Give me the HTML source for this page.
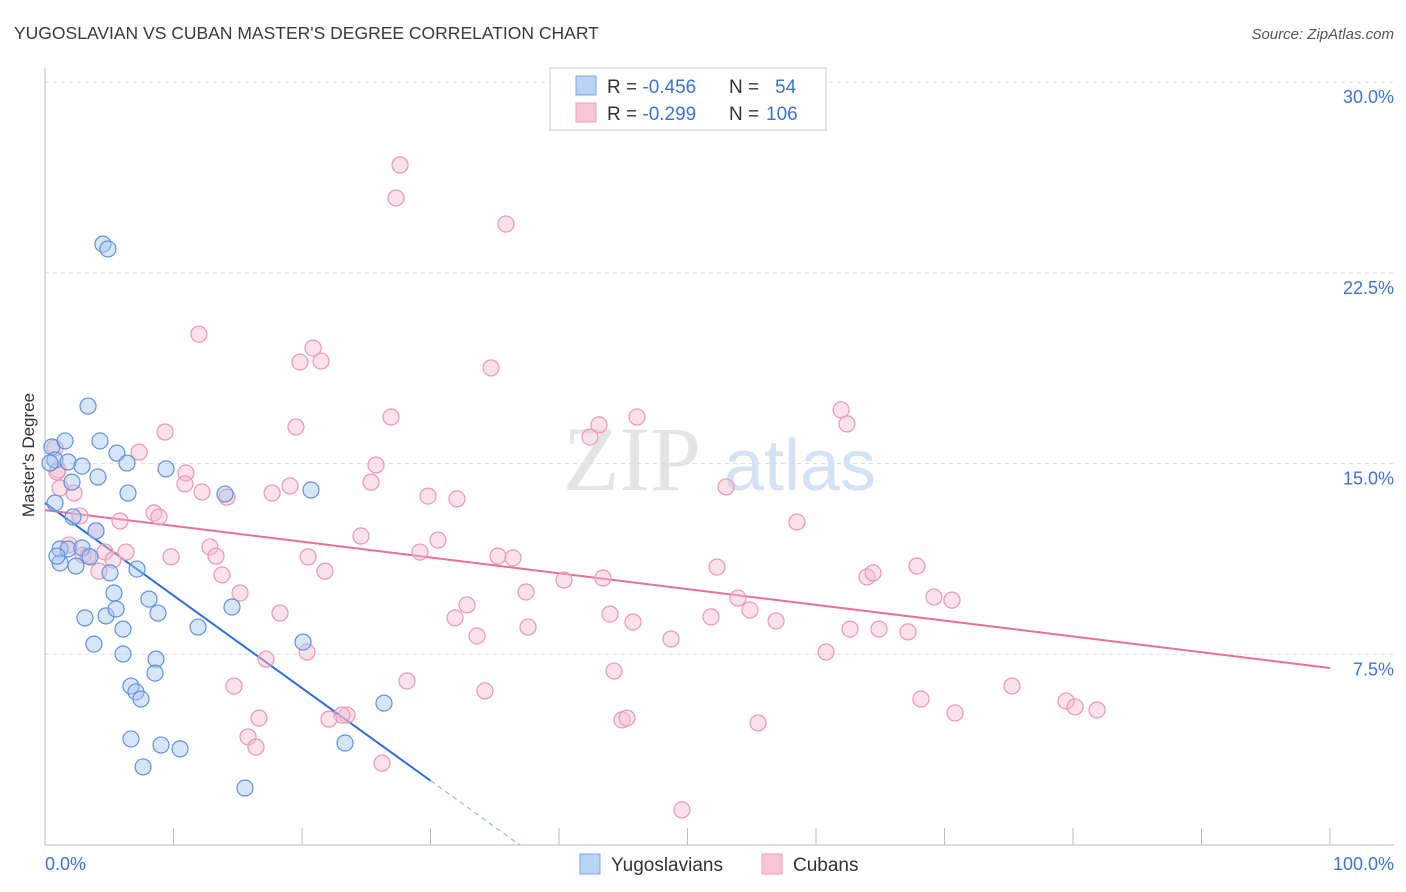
<!DOCTYPE html>
<html><head><meta charset="utf-8"><style>
body{margin:0;background:#fff;}
svg{display:block;font-family:"Liberation Sans",sans-serif;}
</style></head><body>
<svg id="chart" width="1406" height="892">
<text x="14" y="39" font-size="17.5" fill="#3a3a3a">YUGOSLAVIAN VS CUBAN MASTER'S DEGREE CORRELATION CHART</text>
<text x="1394" y="39" font-size="15" fill="#555" text-anchor="end" font-style="italic">Source: ZipAtlas.com</text>
<text transform="translate(34,455) rotate(-90)" font-size="17" fill="#333" text-anchor="middle">Master's Degree</text>
<g>
<text x="632" y="490" font-size="92" fill="#e4e4e4" text-anchor="middle" font-family="Liberation Serif,serif">ZIP</text>
<text x="800" y="490" font-size="72" fill="#d3e2f4" text-anchor="middle">atlas</text>
</g>
<g id="grid"></g><g id="axes"></g><g id="lines"></g><g id="pts"></g>
<g>
<rect x="550" y="68" width="276" height="62" fill="#fff" stroke="#ccc"/>
<rect x="576" y="76" width="20" height="19" fill="#b9d3f5" stroke="#7aa7e3"/>
<rect x="576" y="103" width="20" height="19" fill="#f8c6d6" stroke="#eca3bb"/>
<text x="607" y="93" font-size="19" fill="#333">R = <tspan fill="#3d74d2">-0.456</tspan><tspan x="729">N = </tspan><tspan x="775" fill="#3d74d2">54</tspan></text>
<text x="607" y="120" font-size="19" fill="#333">R = <tspan fill="#3d74d2">-0.299</tspan><tspan x="729">N = </tspan><tspan x="766" fill="#3d74d2">106</tspan></text>
</g>
<g>
<rect x="580" y="854" width="20" height="20" fill="#b9d3f5" stroke="#7aa7e3"/>
<text x="611" y="871" font-size="19" fill="#333">Yugoslavians</text>
<rect x="762" y="854" width="20" height="20" fill="#f8c6d6" stroke="#eca3bb"/>
<text x="793" y="871" font-size="19" fill="#333">Cubans</text>
</g>
</svg>
<script>
const yTicks=[7.5,15,22.5,30];
const yTickLabels=["7.5%","15.0%","22.5%","30.0%"];
const xTicks=[0,10,20,30,40,50,60,70,80,90,100];
const yugoX=[0.54,0.78,0.39,0.78,1.56,1.79,2.10,2.88,4.12,4.28,3.35,5.60,6.38,6.46,9.42,14.01,20.70,4.51,4.90,1.17,1.79,2.88,1.17,2.41,2.18,3.97,3.50,5.06,7.16,5.37,8.09,8.79,4.75,5.53,3.11,6.07,3.81,6.07,11.91,14.55,8.64,8.56,6.69,7.08,7.47,20.08,6.69,9.03,10.51,7.63,15.56,23.35,26.38,0.93];
const yugoY=[15.65,15.14,15.02,13.45,15.89,15.06,14.27,14.90,14.47,15.89,17.26,15.41,15.02,13.84,14.79,13.80,13.96,23.63,23.44,11.64,11.64,11.68,11.09,10.97,12.90,12.35,11.33,10.70,10.85,9.91,9.67,9.12,9.01,9.28,8.93,8.49,7.90,7.51,8.57,9.36,7.31,6.76,6.25,6.02,5.74,7.98,4.17,3.93,3.78,3.07,2.24,4.01,5.58,11.36];
const cubX=[27.63,27.32,35.88,11.98,20.86,19.84,21.48,34.71,26.93,43.11,46.07,42.41,61.95,62.41,9.34,7.32,0.78,1.01,1.17,2.26,10.97,10.89,12.22,14.16,17.67,19.07,19.53,25.76,25.37,29.81,32.06,53.00,58.52,5.84,8.48,8.87,2.72,3.97,1.87,4.67,5.29,4.20,9.81,12.84,13.31,13.77,15.18,18.29,21.79,24.59,29.18,30.58,35.25,36.42,37.43,40.39,43.42,32.84,31.91,33.62,37.59,43.97,45.76,48.72,51.83,52.30,53.93,54.86,56.89,60.78,62.65,63.97,64.44,64.90,67.16,67.86,69.18,70.58,44.28,44.90,45.29,34.24,28.17,26.23,23.50,23.11,22.10,16.65,15.80,16.42,14.71,17.20,20.39,55.49,68.17,70.82,75.25,79.46,80.16,81.87,49.57,0.93,6.30,2.96,3.35,20.47];
const cubY=[26.74,25.44,24.42,20.09,19.54,18.99,19.03,18.76,16.83,16.52,16.83,16.04,17.11,16.56,16.24,15.45,15.61,14.75,14.04,13.84,14.63,14.20,13.88,13.68,13.84,14.12,16.44,14.94,14.27,13.72,13.61,14.08,12.70,12.74,13.06,12.90,12.94,12.35,11.80,11.52,11.21,10.77,11.33,11.72,11.36,10.62,9.91,9.12,10.77,12.15,11.52,11.99,11.36,11.29,9.95,10.42,10.50,9.44,8.93,8.22,8.57,9.08,8.77,8.10,8.97,10.93,9.71,9.24,8.81,7.59,8.49,10.54,10.70,8.49,8.38,10.97,9.75,9.63,6.84,4.92,4.99,6.06,6.45,3.22,5.11,5.11,4.95,4.99,4.25,3.85,6.25,7.31,7.59,4.80,5.74,5.19,6.25,5.66,5.43,5.31,1.38,14.67,11.52,11.40,11.36,11.33];
const yugoFit=[13.45,-0.364];
const cubFit=[13.17,-0.0621];
const NS="http://www.w3.org/2000/svg";
const sx=v=>45+v*12.85, sy=v=>845-v*25.43;
function mk(p,tag,a){const e=document.createElementNS(NS,tag);for(const k in a)e.setAttribute(k,a[k]);document.getElementById(p).appendChild(e);return e;}
yTicks.forEach((t,i)=>{
 let g=mk('grid','line',{x1:45,x2:1394,y1:sy(t),y2:sy(t),stroke:'#ddd','stroke-dasharray':'4,4'});
 
 
 let l=mk('axes','text',{x:1394,y:sy(t)+21,'font-size':18,fill:'#3d74d2','text-anchor':'end'});
 l.textContent=yTickLabels[i];
 
 
});
let ya=mk('axes','line',{x1:45,x2:45,y1:68,y2:845,stroke:'#bbb'});


let xa=mk('axes','line',{x1:45,x2:1394,y1:845,y2:845,stroke:'#bbb'});


xTicks.forEach(t=>{let k=mk('axes','line',{x1:sx(t),x2:sx(t),y1:828,y2:845,stroke:'#bbb'});
 
 });
let x0=mk('axes','text',{x:45,y:870,'font-size':18,fill:'#3d74d2'});x0.textContent='0.0%';


let x1=mk('axes','text',{x:1394,y:870,'font-size':18,fill:'#3d74d2','text-anchor':'end'});x1.textContent='100.0%';


function pts(X,Y,fill,stroke,name){X.forEach((x,i)=>{let c=mk('pts','circle',{cx:sx(x),cy:sy(Y[i]),r:8,fill:fill,'fill-opacity':0.45,stroke:stroke,'stroke-width':1.2});
 
 });}
pts(cubX,cubY,'#f6bcd0','#eb97b3','cuban-point');
pts(yugoX,yugoY,'#a7c6f0','#5f93dc','yugoslavian-point');
const f=(p,x)=>p[0]+p[1]*x;
let b1=mk('lines','line',{x1:sx(0),y1:sy(f(yugoFit,0)),x2:sx(30),y2:sy(f(yugoFit,30)),stroke:'#2f6fd6','stroke-width':2});


const xe=-yugoFit[0]/yugoFit[1];
let b2=mk('lines','line',{x1:sx(30),y1:sy(f(yugoFit,30)),x2:sx(xe),y2:sy(0),stroke:'#9bb8e6','stroke-width':1.2,'stroke-dasharray':'5,4'});


let p1=mk('lines','line',{x1:sx(0),y1:sy(f(cubFit,0)),x2:sx(100),y2:sy(f(cubFit,100)),stroke:'#e8709a','stroke-width':2});


</script>
</body></html>
